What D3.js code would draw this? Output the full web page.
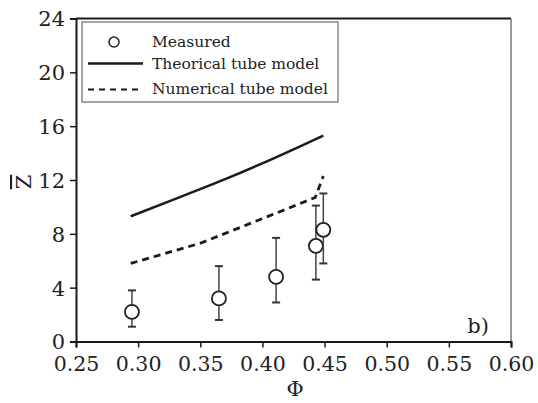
<!DOCTYPE html>
<html>
<head>
<meta charset="utf-8">
<script src="https://cdn.jsdelivr.net/npm/d3@7"></script>
<style>
  body { margin: 0; background: #fff; }
  svg { display: block; }
  svg text { fill: #222; }
</style>
</head>
<body>
<svg id="chart" width="538" height="403"></svg>
<script>
// ---- data ----
const measPhi = [0.295, 0.365, 0.411, 0.443, 0.449];
const measZ   = [2.2, 3.2, 4.8, 7.1, 8.3];
const measLo  = [1.1, 1.6, 2.9, 4.6, 5.8];
const measHi  = [3.8, 5.6, 7.7, 10.1, 11.0];

const theoPhi = [0.294, 0.33, 0.371, 0.41, 0.449];
const theoZ   = [9.3, 10.6, 12.1, 13.65, 15.3];

const numPhi  = [0.294, 0.35, 0.406, 0.4425, 0.449];
const numZ    = [5.8, 7.3, 9.35, 10.7, 12.3];

const xTicks = [0.25, 0.30, 0.35, 0.40, 0.45, 0.50, 0.55, 0.60];
const yTicks = [0, 4, 8, 12, 16, 20, 24];
const legendLabels = ["Measured", "Theorical tube model", "Numerical tube model"];

// ---- chart ----
const FONT = 'DejaVu Serif, Liberation Serif, serif';
const svg = d3.select("#chart");
const x = d3.scaleLinear().domain([0.25, 0.60]).range([76, 511]);
const y = d3.scaleLinear().domain([0, 24]).range([341.5, 18.5]);
const ink = "#1a1a1a";

// frame (top & right)
svg.append("line").attr("x1", x(0.25)).attr("x2", x(0.60)).attr("y1", y(24)).attr("y2", y(24))
  .attr("stroke", ink).attr("stroke-width", 2);
svg.append("line").attr("x1", x(0.60)).attr("x2", x(0.60)).attr("y1", y(24)).attr("y2", y(0))
  .attr("stroke", "#777").attr("stroke-width", 1.5);

// x axis
const xMinor = d3.range(25, 61).map(d => d / 100);
const gx = svg.append("g").attr("transform", `translate(0,${y(0)})`);
gx.call(d3.axisBottom(x).tickValues(xMinor).tickSize(3).tickFormat(""));
gx.call(d3.axisBottom(x).tickValues(xTicks).tickSize(6).tickPadding(9).tickFormat(d3.format(".2f")));
gx.attr("font-family", FONT);
gx.selectAll("path.domain").attr("stroke", ink).attr("stroke-width", 2);
gx.selectAll(".tick line").attr("stroke", ink).attr("stroke-width", 1.5);
gx.selectAll("text").attr("font-family", FONT).style("font-size", "20.5px").attr("fill", "#222");

// y axis
const yMinor = d3.range(0, 25);
const gy = svg.append("g").attr("transform", `translate(${x(0.25)},0)`);
gy.call(d3.axisLeft(y).tickValues(yMinor).tickSize(3).tickFormat(""));
gy.call(d3.axisLeft(y).tickValues(yTicks).tickSize(6).tickPadding(5).tickFormat(d3.format("d")));
gy.attr("font-family", FONT);
gy.selectAll("path.domain").attr("stroke", ink).attr("stroke-width", 2);
gy.selectAll(".tick line").attr("stroke", ink).attr("stroke-width", 1.5);
gy.selectAll("text").attr("font-family", FONT).style("font-size", "21px").attr("fill", "#222").attr("dy", "0.35em");

// axis titles
svg.append("text").attr("x", 295).attr("y", 396).attr("text-anchor", "middle")
  .attr("font-family", FONT).style("font-size", "21px").text("Φ");
svg.append("text").attr("transform", "translate(31,182) rotate(-90)").attr("text-anchor", "middle")
  .attr("font-family", FONT).style("font-size", "21px").style("text-decoration", "overline").text("Z");

// panel label
svg.append("text").attr("x", 489).attr("y", 333).attr("text-anchor", "end")
  .attr("font-family", FONT).style("font-size", "21px").text("b)");

// lines
const line = d3.line().x(d => x(d[0])).y(d => y(d[1])).curve(d3.curveMonotoneX);
svg.append("path").datum(d3.zip(theoPhi, theoZ)).attr("d", line)
  .attr("fill", "none").attr("stroke", ink).attr("stroke-width", 2.5);
svg.append("path").datum(d3.zip(numPhi, numZ)).attr("d", d3.line().x(d => x(d[0])).y(d => y(d[1])))
  .attr("fill", "none").attr("stroke", ink).attr("stroke-width", 2.8).attr("stroke-dasharray", "7,5");

// error bars & markers
const meas = measPhi.map((p, i) => ({p, z: measZ[i], lo: measLo[i], hi: measHi[i]}));
const eb = svg.append("g").selectAll("g").data(meas).join("g");
eb.append("line").attr("x1", d => x(d.p)).attr("x2", d => x(d.p)).attr("y1", d => y(d.lo)).attr("y2", d => y(d.hi))
  .attr("stroke", "#444").attr("stroke-width", 1.5);
eb.append("line").attr("x1", d => x(d.p) - 4).attr("x2", d => x(d.p) + 4).attr("y1", d => y(d.hi)).attr("y2", d => y(d.hi))
  .attr("stroke", "#333").attr("stroke-width", 2);
eb.append("line").attr("x1", d => x(d.p) - 4).attr("x2", d => x(d.p) + 4).attr("y1", d => y(d.lo)).attr("y2", d => y(d.lo))
  .attr("stroke", "#333").attr("stroke-width", 2);
eb.append("circle").attr("cx", d => x(d.p)).attr("cy", d => y(d.z)).attr("r", 7)
  .attr("fill", "#fff").attr("stroke", "#222").attr("stroke-width", 1.8);

// legend
const lg = svg.append("g");
lg.append("rect").attr("x", 82).attr("y", 22).attr("width", 256).attr("height", 80)
  .attr("fill", "#fff").attr("stroke", "#888").attr("stroke-width", 1.5);
lg.append("circle").attr("cx", 114).attr("cy", 42).attr("r", 5)
  .attr("fill", "none").attr("stroke", "#222").attr("stroke-width", 1.5);
lg.append("line").attr("x1", 88).attr("x2", 143).attr("y1", 63.5).attr("y2", 63.5)
  .attr("stroke", ink).attr("stroke-width", 2.5);
lg.append("line").attr("x1", 88).attr("x2", 143).attr("y1", 89.5).attr("y2", 89.5)
  .attr("stroke", ink).attr("stroke-width", 1.8).attr("stroke-dasharray", "6,5");
const ly = [47, 69, 94];
legendLabels.forEach((t, i) => {
  lg.append("text").attr("x", 152).attr("y", ly[i]).attr("font-family", FONT)
    .style("font-size", "15.5px").text(t);
});
</script>
</body>
</html>
